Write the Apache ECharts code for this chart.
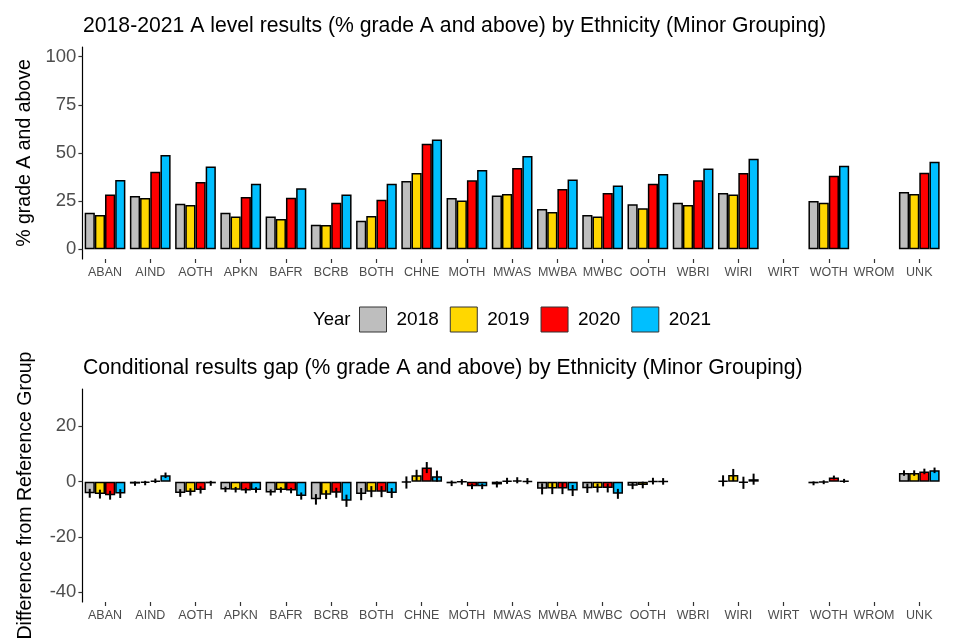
<!DOCTYPE html>
<html>
<head>
<meta charset="utf-8">
<script src="https://cdn.jsdelivr.net/npm/echarts@6/dist/echarts.min.js"></script>
<style>
  html, body { margin: 0; padding: 0; background: #fff; }
  #chart { width: 960px; height: 640px; }
</style>
</head>
<body>
<div id="chart"></div>
<script>
let font = "Liberation Sans";

// categories (ethnicity minor grouping)
let groups = ["ABAN", "AIND", "AOTH", "APKN", "BAFR", "BCRB", "BOTH", "CHNE", "MOTH", "MWAS",
              "MWBA", "MWBC", "OOTH", "WBRI", "WIRI", "WIRT", "WOTH", "WROM", "UNK"];
let years = ["2018", "2019", "2020", "2021"];
let colours = ["#BEBEBE", "#FFD700", "#FF0000", "#00BFFF"];

// % grade A and above, per year
let pct2018 = [19.0, 27.7, 23.7, 19.0, 17.0, 12.8, 14.9, 35.5, 26.6, 28.0, 20.9, 17.8, 23.4, 24.2, 29.2, null, 25.1, null, 29.8];
let pct2019 = [17.8, 26.6, 23.0, 17.0, 15.7, 12.6, 17.3, 39.6, 25.3, 28.7, 19.4, 17.0, 21.3, 23.0, 28.5, null, 24.2, null, 28.7];
let pct2020 = [28.5, 40.3, 35.0, 27.2, 26.8, 24.2, 25.8, 54.8, 35.8, 42.2, 31.3, 29.2, 34.1, 35.8, 39.6, null, 38.2, null, 39.8];
let pct2021 = [36.0, 49.0, 43.0, 34.0, 31.7, 28.5, 34.0, 57.0, 41.2, 48.4, 36.3, 33.2, 39.1, 41.9, 47.0, null, 43.4, null, 45.5];

// conditional gap from reference group (WBRI), per year
let gap2018 = [-4.2, -0.7, -4.1, -2.8, -3.9, -6.4, -4.5, -0.3, -0.6, -1.0, -2.6, -2.4, -1.5, null, 0.3, null, -0.6, null, 3.1];
let gap2019 = [-4.5, -0.5, -3.7, -2.9, -3.0, -4.7, -3.6, 2.3, -0.1, 0.3, -2.5, -2.3, -1.2, null, 2.4, null, -0.2, null, 3.1];
let gap2020 = [-4.9, 0.3, -3.0, -3.2, -3.2, -4.0, -3.6, 5.1, -1.7, 0.5, -2.5, -2.3, 0.2, null, -0.4, null, 1.5, null, 3.7];
let gap2021 = [-4.3, 2.3, -0.6, -3.0, -5.2, -6.9, -4.1, 2.0, -1.7, 0.2, -3.2, -4.4, 0.1, null, 0.9, null, 0.3, null, 4.1];

// half width of the interval round each gap
let err2018 = [1.6, 0.8, 1.4, 1.0, 1.1, 1.9, 2.2, 2.2, 1.0, 1.1, 2.0, 1.7, 1.2, null, 2.0, null, 0.7, null, 1.0];
let err2019 = [1.6, 0.8, 1.3, 1.0, 1.0, 1.6, 2.0, 2.0, 1.0, 1.1, 2.0, 1.6, 1.2, null, 2.2, null, 0.7, null, 1.0];
let err2020 = [1.6, 0.8, 1.3, 1.0, 1.0, 1.8, 2.0, 2.0, 1.0, 1.1, 2.0, 1.6, 1.2, null, 2.2, null, 0.7, null, 1.0];
let err2021 = [1.6, 1.0, 0.9, 1.0, 1.3, 2.2, 1.8, 2.0, 1.0, 1.1, 2.0, 1.8, 1.2, null, 2.0, null, 0.7, null, 1.0];

let topTicks = [0, 25, 50, 75, 100];
let bottomTicks = [-40, -20, 0, 20];

let pctData = [pct2018, pct2019, pct2020, pct2021];
let gapData = [gap2018, gap2019, gap2020, gap2021];
let errData = [err2018, err2019, err2020, err2021];

let myChart = echarts.init(document.getElementById("chart"));

function xAxisFor(idx) {
    return {
        type: "category",
        gridIndex: idx,
        data: groups,
        axisLine: { show: false, onZero: false },
        axisTick: { show: true, alignWithLabel: true, length: 4, lineStyle: { color: "#333", width: 1.2 } },
        axisLabel: { color: "#4d4d4d", fontSize: 12.5, fontFamily: font, margin: 7, interval: 0 }
    };
}

function yAxisFor(idx, min, max, ticks, name) {
    return {
        type: "value",
        gridIndex: idx,
        min: min,
        max: max,
        name: name,
        nameLocation: "middle",
        nameRotate: 90,
        nameGap: 47,
        nameTextStyle: { color: "#000", fontSize: 19.5, fontFamily: font },
        splitLine: { show: false },
        axisLine: { show: true, lineStyle: { color: "#000", width: 1.2 } },
        axisTick: { show: true, length: 4, customValues: ticks, lineStyle: { color: "#333", width: 1.2 } },
        axisLabel: { color: "#4d4d4d", fontSize: 18.5, fontFamily: font, margin: 6, customValues: ticks }
    };
}

let series = [];
years.forEach((yr, i) => {
    series.push({
        name: yr,
        type: "bar",
        xAxisIndex: 0,
        yAxisIndex: 0,
        data: pctData[i],
        barGap: "0%",
        barCategoryGap: "10%",
        itemStyle: { color: colours[i], borderColor: "#000", borderWidth: 1.5 }
    });
});
years.forEach((yr, i) => {
    series.push({
        name: yr,
        type: "bar",
        xAxisIndex: 1,
        yAxisIndex: 1,
        data: gapData[i],
        barGap: "0%",
        barCategoryGap: "10%",
        itemStyle: { color: colours[i], borderColor: "#000", borderWidth: 1.5 }
    });
});

// error bars: [category index, year index, low, high]
let errRows = [];
for (let i = 0; i < years.length; i++) {
    for (let c = 0; c < groups.length; c++) {
        if (gapData[i][c] === null) continue;
        errRows.push([c, i, gapData[i][c] - errData[i][c], gapData[i][c] + errData[i][c]]);
    }
}

series.push({
    type: "custom",
    xAxisIndex: 1,
    yAxisIndex: 1,
    data: errRows,
    encode: { x: 0, y: [2, 3] },
    z: 10,
    silent: true,
    renderItem: function (params, api) {
        let c = api.value(0);
        let yi = api.value(1);
        let band = api.size([1, 0])[0];
        let barW = band * 0.9 / 4;
        let lo = api.coord([c, api.value(2)]);
        let hi = api.coord([c, api.value(3)]);
        let x = lo[0] - band * 0.45 + (yi + 0.5) * barW;
        return {
            type: "line",
            shape: { x1: x, y1: lo[1], x2: x, y2: hi[1] },
            style: { stroke: "#000", lineWidth: 2 }
        };
    }
});

let option = {
    animation: false,
    backgroundColor: "#fff",
    textStyle: { fontFamily: font },
    title: [
        {
            text: "2018-2021 A level results (% grade A and above) by Ethnicity (Minor Grouping)",
            left: 83, top: 16, padding: 0,
            textStyle: { color: "#000", fontSize: 21.2, fontWeight: "normal", fontFamily: font }
        },
        {
            text: "Conditional results gap (% grade A and above) by Ethnicity (Minor Grouping)",
            left: 83, top: 358, padding: 0,
            textStyle: { color: "#000", fontSize: 21.2, fontWeight: "normal", fontFamily: font }
        }
    ],
    legend: {
        data: years,
        left: 359,
        top: 306.5,
        padding: 0,
        orient: "horizontal",
        itemWidth: 27,
        itemHeight: 25,
        itemGap: 11,
        selectedMode: false,
        icon: "rect",
        itemStyle: { borderColor: "#333", borderWidth: 1 },
        textStyle: { color: "#000", fontSize: 19, fontFamily: font, padding: [0, 0, 0, 5] }
    },
    graphic: [
        {
            type: "text",
            left: 313,
            top: 310,
            style: { text: "Year", fill: "#000", fontSize: 18.5, fontFamily: font }
        }
    ],
    grid: [
        { left: 82.4, right: 18.1, top: 47, height: 212, outerBoundsMode: "none" },
        { left: 82.4, right: 18.1, top: 389, height: 213, outerBoundsMode: "none" }
    ],
    xAxis: [xAxisFor(0), xAxisFor(1)],
    yAxis: [
        yAxisFor(0, -5, 105, topTicks, "% grade A and above"),
        yAxisFor(1, -43.5, 33.5, bottomTicks, "Difference from Reference Group")
    ],
    series: series
};

myChart.setOption(option);
</script>
</body>
</html>
